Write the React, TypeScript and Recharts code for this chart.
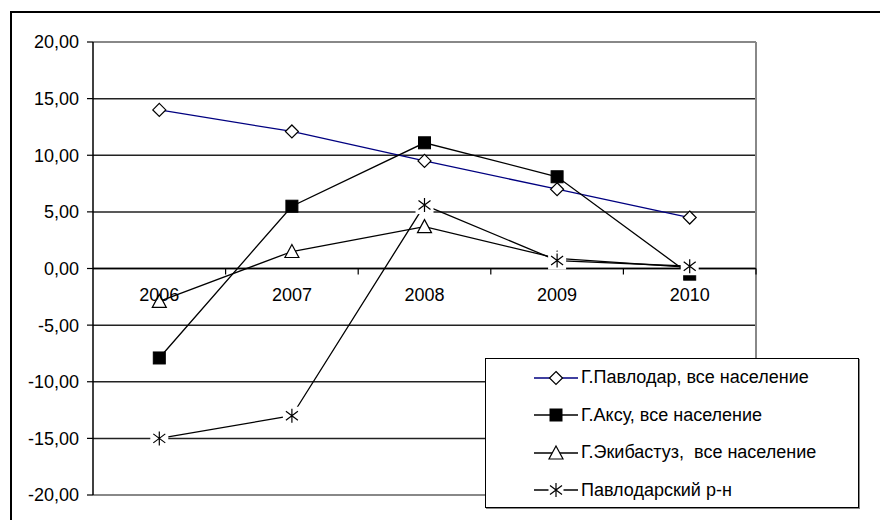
import React from 'react';
import { LineChart, Line, XAxis, YAxis, CartesianGrid, ReferenceLine, Legend } from 'recharts';

const years = ['2006', '2007', '2008', '2009', '2010'];
const pavlodar = [14.0, 12.1, 9.5, 7.0, 4.5];
const aksu = [-7.9, 5.5, 11.1, 8.1, -0.5];
const ekibastuz = [-2.9, 1.5, 3.7, 0.9, 0.1];
const district = [-15.0, -13.0, 5.6, 0.7, 0.2];
const yTicks = [-20, -15, -10, -5, 0, 5, 10, 15, 20];

const series = [
  { key: 'pavlodar', name: 'Г.Павлодар, все население', color: '#000080', marker: 'diamond' },
  { key: 'aksu', name: 'Г.Аксу, все население', color: '#000000', marker: 'square' },
  { key: 'ekibastuz', name: 'Г.Экибастуз,  все население', color: '#000000', marker: 'triangle' },
  { key: 'district', name: 'Павлодарский р-н', color: '#000000', marker: 'star' },
];

const data = years.map((year, i) => ({
  year,
  pavlodar: pavlodar[i],
  aksu: aksu[i],
  ekibastuz: ekibastuz[i],
  district: district[i],
}));

const W = 880;
const H = 520;
const margin = { top: 42, right: 124, bottom: 24, left: 0 };
const X_AXIS_H = 1;
const Y_AXIS_W = 93;
const plotW = W - margin.left - margin.right - Y_AXIS_W;
const plotH = H - margin.top - margin.bottom - X_AXIS_H;
const zeroY = margin.top + plotH / 2;
const bandW = plotW / years.length;
const font = '"Liberation Sans", Arial, sans-serif';

function Marker({ kind, cx, cy, halo = 9 }: { kind: string; cx: number; cy: number; halo?: number }) {
  if (kind === 'diamond') {
    return (
      <polygon
        points={`${cx},${cy - 6.5} ${cx + 6.5},${cy} ${cx},${cy + 6.5} ${cx - 6.5},${cy}`}
        fill="#fff"
        stroke="#000"
        strokeWidth={1.2}
      />
    );
  }
  if (kind === 'square') {
    return <rect x={cx - 6} y={cy - 6} width={12} height={12} fill="#000" stroke="#000" strokeWidth={1} />;
  }
  if (kind === 'triangle') {
    return (
      <polygon
        points={`${cx},${cy - 7} ${cx + 7},${cy + 6} ${cx - 7},${cy + 6}`}
        fill="#fff"
        stroke="#000"
        strokeWidth={1.2}
      />
    );
  }
  return (
    <g>
      <rect x={cx - halo} y={cy - halo} width={halo * 2} height={halo * 2} fill="#fff" />
      <path
        d={`M${cx},${cy - 7}L${cx},${cy + 7}M${cx - 6},${cy - 4.5}L${cx + 6},${cy + 4.5}M${cx + 6},${cy - 4.5}L${cx - 6},${cy + 4.5}`}
        stroke="#000"
        strokeWidth={1.2}
        fill="none"
      />
    </g>
  );
}

const YearTick = (props: any) => {
  const { x, index, payload } = props;
  const last = index === years.length - 1;
  return (
    <g>
      {index > 0 && <line x1={x - bandW / 2} x2={x - bandW / 2} y1={zeroY} y2={zeroY + 6} stroke="#000" strokeWidth={1.2} />}
      {last && <line x1={x + bandW / 2} x2={x + bandW / 2} y1={zeroY} y2={zeroY + 6} stroke="#000" strokeWidth={1.2} />}
      <text x={x} y={zeroY + 32} textAnchor="middle" fontSize={18} fontFamily={font} fill="#000">
        {payload.value}
      </text>
    </g>
  );
};

const renderLegend = () => (
  <div
    style={{
      width: 374,
      height: 150,
      boxSizing: 'border-box',
      border: '1px solid #000',
      boxShadow: '1px 1px 0 #888',
      background: '#fff',
      paddingLeft: 47,
      fontFamily: font,
      fontSize: 18,
      color: '#000',
    }}
  >
    {series.map((s) => (
      <div key={s.key} style={{ height: 37.5, display: 'flex', alignItems: 'center' }}>
        <svg width={46} height={20} style={{ flex: 'none' }}>
          <line x1={1} x2={45} y1={10} y2={10} stroke={s.color} strokeWidth={1.3} />
          <Marker kind={s.marker} cx={23} cy={10} halo={7.5} />
        </svg>
        <span style={{ marginLeft: 2, whiteSpace: 'pre' }}>{s.name}</span>
      </div>
    ))}
  </div>
);

export default function App() {
  return (
    <div style={{ position: 'fixed', left: 0, top: 0, width: W, height: H, overflow: 'hidden', background: '#fff' }}>
      <div
        style={{
          position: 'absolute',
          left: 10,
          top: 11,
          width: W,
          height: H,
          borderLeft: '2px solid #000',
          borderTop: '2px solid #000',
        }}
      />
      <LineChart width={W} height={H} data={data} margin={margin}>
        <CartesianGrid vertical={false} stroke="#222" strokeWidth={1.5} />
        <CartesianGrid
          horizontal={false}
          verticalCoordinatesGenerator={({ offset }: any) => [offset.left + offset.width]}
          stroke="#888"
          strokeWidth={2}
        />
        <ReferenceLine y={20} stroke="#888" strokeWidth={2} />
        <ReferenceLine y={-20} stroke="#888" strokeWidth={2} />
        <ReferenceLine y={0} stroke="#000" strokeWidth={1.5} />
        <XAxis
          dataKey="year"
          height={X_AXIS_H}
          axisLine={false}
          tickLine={false}
          interval={0}
          padding={{ left: bandW / 2, right: bandW / 2 }}
          tick={<YearTick />}
        />
        <YAxis
          width={Y_AXIS_W}
          domain={[-20, 20]}
          ticks={yTicks}
          interval={0}
          tickSize={6}
          tickMargin={8}
          axisLine={{ stroke: '#000', strokeWidth: 1.5 }}
          tickLine={{ stroke: '#000', strokeWidth: 1.2 }}
          tick={{ fontSize: 18, fontFamily: font, fill: '#000' }}
          tickFormatter={(v: number) => v.toFixed(2).replace('.', ',')}
        />
        {series.map((s) => (
          <Line
            key={s.key}
            type="linear"
            dataKey={s.key}
            name={s.name}
            stroke={s.color}
            strokeWidth={1.3}
            isAnimationActive={false}
            activeDot={false}
            dot={(p: any) => <Marker key={`${s.key}-${p.index}`} kind={s.marker} cx={p.cx} cy={p.cy} />}
          />
        ))}
        <Legend
          layout="vertical"
          align="center"
          verticalAlign="middle"
          content={renderLegend}
          wrapperStyle={{ left: 485, top: 358, width: 374, height: 150 }}
        />
      </LineChart>
    </div>
  );
}
